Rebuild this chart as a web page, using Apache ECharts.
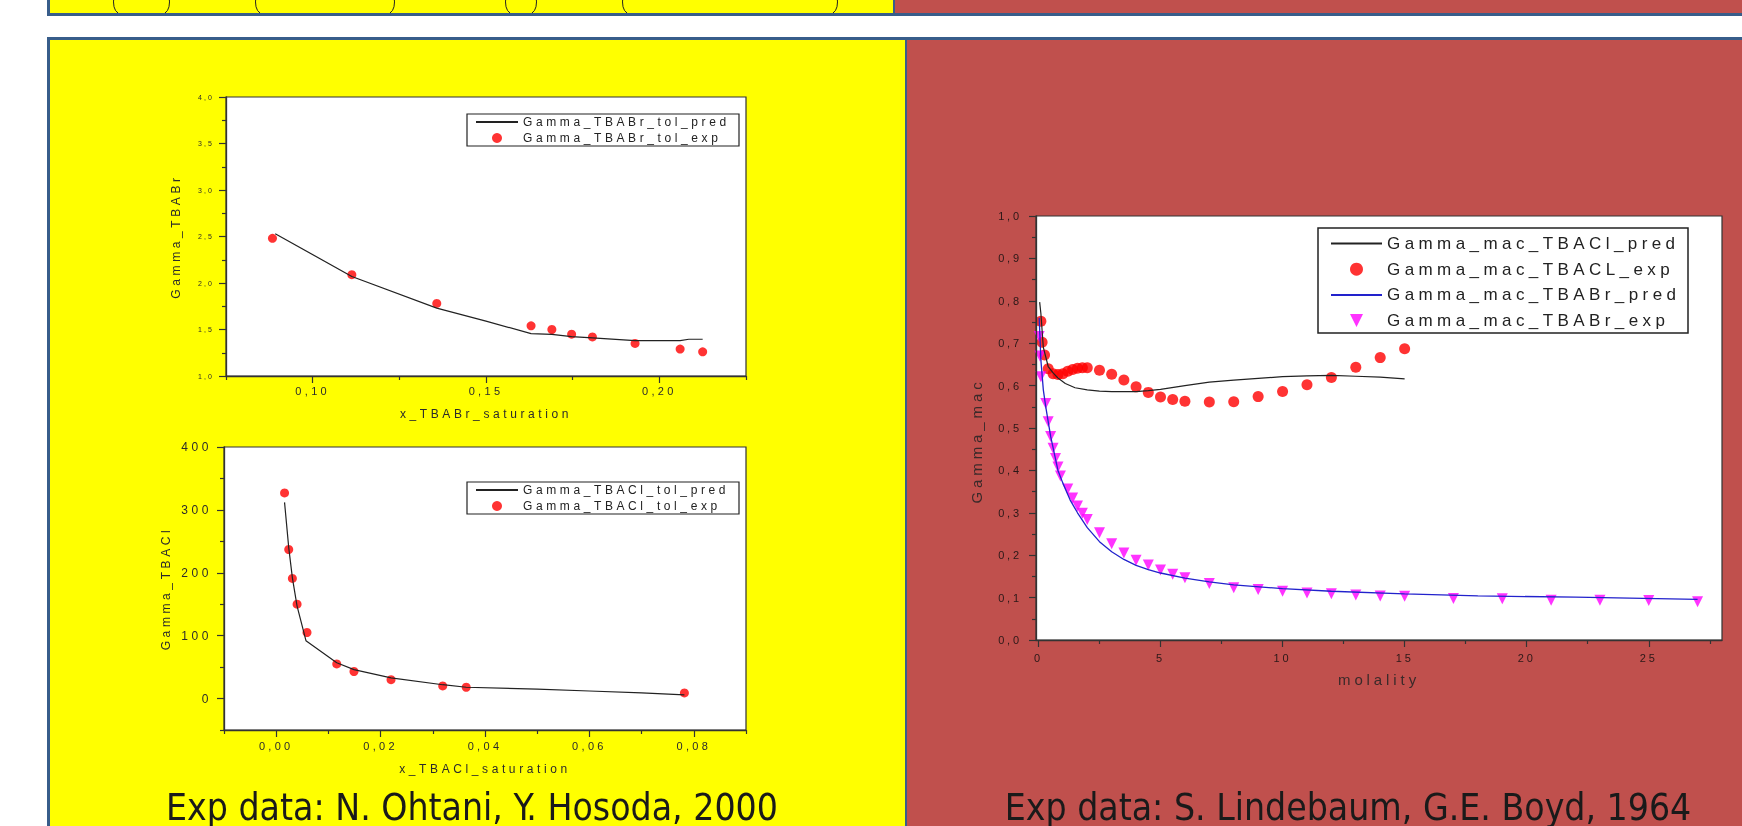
<!DOCTYPE html>
<html><head><meta charset="utf-8">
<script src="https://cdn.jsdelivr.net/npm/echarts@6/dist/echarts.min.js"></script>
<style>
html,body{margin:0;padding:0;background:#fff;}
.layer{position:absolute;left:0;top:0;width:1742px;height:826px;}
#c12 text{letter-spacing:0.3em;}
#c3 text{letter-spacing:0.26em;}
</style></head>
<body>
<div id="bg" class="layer"></div>
<div id="c12" class="layer"></div>
<div id="c3" class="layer"></div>
<script>
// ---------- DATA ----------
// Chart 1 : Gamma_TBABr vs x_TBABr_saturation
const brTolExpX = [0.0884,0.1113,0.1358,0.1630,0.1690,0.1747,0.1807,0.1930,0.2060,0.2125];
const brTolExpY = [2.48,2.09,1.78,1.54,1.50,1.45,1.42,1.35,1.29,1.26];
const brTolPredX = [0.0892,0.1113,0.1358,0.1500,0.1630,0.1690,0.1747,0.1807,0.1930,0.2060,0.2085,0.2125];
const brTolPredY = [2.53,2.07,1.73,1.59,1.456,1.448,1.424,1.41,1.38,1.38,1.395,1.395];
// Chart 2 : Gamma_TBACl vs x_TBACl_saturation
const clTolExpX = [0.0016,0.0024,0.0031,0.0040,0.0059,0.0116,0.0149,0.0220,0.0319,0.0364,0.0782];
const clTolExpY = [327,237,191,150,105,55,43,30,20,18,9];
const clTolPredX = [0.0016,0.0024,0.0031,0.0040,0.0057,0.0116,0.0149,0.0220,0.0319,0.0364,0.0500,0.0600,0.0700,0.0782];
const clTolPredY = [312,240,192,147,92,57,46,33,22,18,15,12,9,6];
// Chart 3 : Gamma_mac vs molality
const clMacExpX = [0.1,0.15,0.25,0.4,0.6,0.8,1.0,1.2,1.4,1.6,1.8,2.0,2.5,3.0,3.5,4.0,4.5,5.0,5.5,6.0,7,8,9,10,11,12,13,14,15];
const clMacExpY = [0.752,0.702,0.672,0.640,0.628,0.626,0.628,0.634,0.638,0.641,0.642,0.642,0.636,0.627,0.613,0.597,0.584,0.573,0.567,0.563,0.5615,0.562,0.574,0.586,0.602,0.619,0.6435,0.666,0.687];
const clMacPredX = [0.05,0.1,0.2,0.4,0.6,0.8,1.1,1.5,2.0,2.5,3.0,4.0,4.5,5.0,6.0,7.0,8.0,9.0,10,11,12,13,14,15];
const clMacPredY = [0.797,0.77,0.69,0.645,0.630,0.618,0.605,0.595,0.590,0.587,0.586,0.586,0.588,0.591,0.600,0.608,0.613,0.617,0.621,0.623,0.624,0.622,0.620,0.616];
const brMacExpX = [0.03,0.06,0.1,0.3,0.4,0.5,0.6,0.7,0.8,0.9,1.2,1.4,1.6,1.8,2.0,2.5,3.0,3.5,4.0,4.5,5.0,5.5,6.0,7,8,9,10,11,12,13,14,15,17,19,21,23,25,27];
const brMacExpY = [0.716,0.67,0.621,0.558,0.515,0.48,0.452,0.428,0.408,0.387,0.356,0.335,0.316,0.299,0.284,0.253,0.227,0.205,0.188,0.177,0.165,0.155,0.147,0.133,0.123,0.119,0.115,0.111,0.109,0.106,0.104,0.103,0.098,0.097,0.094,0.094,0.093,0.090];
const brMacPredX = [0.03,0.1,0.2,0.3,0.5,0.8,1.0,1.3,1.6,2.0,2.5,3.0,3.5,4.0,4.5,5.0,6,7,8,10,12,15,18,22,27];
const brMacPredY = [0.76,0.66,0.59,0.55,0.48,0.40,0.37,0.33,0.30,0.265,0.232,0.208,0.19,0.176,0.166,0.158,0.146,0.137,0.13,0.121,0.115,0.109,0.104,0.101,0.096];
// Ticks
const c1XMajor = [0.10,0.15,0.20], c1XMinor = [0.075,0.125,0.175,0.225];
const c1YMajor = [1.0,1.5,2.0,2.5,3.0,3.5,4.0], c1YMinor = [1.25,1.75,2.25,2.75,3.25,3.75];
const c2XMajor = [0,0.02,0.04,0.06,0.08], c2XMinor = [-0.01,0.01,0.03,0.05,0.07,0.09];
const c2YMajor = [0,100,200,300,400], c2YMinor = [-50,50,150,250,350];
const c3XMajor = [0,5,10,15,20,25], c3XMinor = [2.5,7.5,12.5,17.5,22.5,27.5];
const c3YMajor = [0,0.1,0.2,0.3,0.4,0.5,0.6,0.7,0.8,0.9,1.0];
const c3YMinor = [0.05,0.15,0.25,0.35,0.45,0.55,0.65,0.75,0.85,0.95];
// Texts
const captionLeft = 'Exp data: N. Ohtani, Y. Hosoda, 2000';
const captionRight = 'Exp data: S. Lindebaum, G.E. Boyd, 1964';

// ---------- helpers ----------
const FONT = "'Liberation Sans', Arial, sans-serif";
const zip = (xs, ys) => xs.map((x, i) => [x, ys[i]]);
const comma = d => v => v.toFixed(d).replace('.', ',');
function axisPair(dim, grid, min, max, majors, minors, fmt, lab, extra) {
  const common = {type:'value', gridIndex:grid, min:min, max:max,
    position: dim === 'x' ? 'bottom' : 'left', splitLine:{show:false}, z:5};
  const major = Object.assign({}, common, {
    axisLine:{show:true, onZero:false, lineStyle:{color:'#333', width:1.3}},
    axisTick:{show:true, customValues:majors, length:7, lineStyle:{color:'#333', width:1.2}},
    axisLabel:Object.assign({customValues:majors, formatter:fmt, fontFamily:FONT}, lab)
  }, extra || {});
  const minor = Object.assign({}, common, {
    axisLine:{show:false, onZero:false},
    axisTick:{show:true, customValues:minors, length:4, lineStyle:{color:'#333', width:1.2}},
    axisLabel:{show:false}
  });
  return [major, minor];
}
const lineLegend = name => ({name:name, itemStyle:{opacity:0}});

// ---------- background (slide panels) ----------
const bg = echarts.init(document.getElementById('bg'), null, {renderer:'canvas'});
const blue = '#385d8a', yellow = '#ffff00', red = '#c0504d';
const parenOpen = [113, 255, 505, 622], parenClose = [170, 395, 537, 838];
const parens = [];
parenOpen.forEach(x => parens.push({type:'bezierCurve', shape:{x1:x+1, y1:-4, x2:x+5, y2:13, cpx1:x-1, cpy1:9}, style:{stroke:'#222', lineWidth:1, fill:null}}));
parenClose.forEach(x => parens.push({type:'bezierCurve', shape:{x1:x-1, y1:-4, x2:x-5, y2:13, cpx1:x+1, cpy1:9}, style:{stroke:'#222', lineWidth:1, fill:null}}));
bg.setOption({
  animation:false,
  graphic:[
    {type:'rect', shape:{x:50, y:-10, width:844, height:24}, style:{fill:yellow}},
    {type:'rect', shape:{x:894, y:-10, width:900, height:24}, style:{fill:red}},
    {type:'line', shape:{x1:894, y1:-10, x2:894, y2:14}, style:{stroke:blue, lineWidth:2}},
    {type:'rect', shape:{x:48.5, y:-10, width:1720, height:24.5}, style:{fill:null, stroke:blue, lineWidth:3}},
    ...parens,
    {type:'rect', shape:{x:50, y:40, width:856, height:800}, style:{fill:yellow}},
    {type:'rect', shape:{x:906, y:40, width:900, height:800}, style:{fill:red}},
    {type:'line', shape:{x1:906, y1:40, x2:906, y2:840}, style:{stroke:blue, lineWidth:2}},
    {type:'rect', shape:{x:48.5, y:38.5, width:1720, height:820}, style:{fill:null, stroke:blue, lineWidth:3}},
    {type:'text', x:472, y:829, style:{text:captionLeft, fill:'#1a1a1a', font:"37px 'Liberation Sans Narrow', 'DejaVu Sans Condensed', sans-serif", textAlign:'center', textVerticalAlign:'bottom'}},
    {type:'text', x:1348, y:829, style:{text:captionRight, fill:'#1a1a1a', font:"37px 'Liberation Sans Narrow', 'DejaVu Sans Condensed', sans-serif", textAlign:'center', textVerticalAlign:'bottom'}}
  ]
});

// ---------- charts 1 & 2 ----------
const c12 = echarts.init(document.getElementById('c12'), null, {renderer:'svg'});
const txt = '#2b2b2b';
const x1 = axisPair('x', 0, 0.075, 0.225, c1XMajor, c1XMinor, comma(2), {fontSize:11, color:txt, margin:9},
  {name:'x_TBABr_saturation', nameLocation:'middle', nameGap:32, nameTextStyle:{fontSize:12, color:txt, fontFamily:FONT}});
const y1 = axisPair('y', 0, 1, 4, c1YMajor, c1YMinor, comma(1), {fontSize:7, color:txt, margin:12},
  {name:'Gamma_TBABr', nameLocation:'middle', nameGap:44, nameTextStyle:{fontSize:12, color:txt, fontFamily:FONT}});
const x2 = axisPair('x', 1, -0.01, 0.09, c2XMajor, c2XMinor, comma(2), {fontSize:11, color:txt, margin:10},
  {name:'x_TBACl_saturation', nameLocation:'middle', nameGap:33, nameTextStyle:{fontSize:12, color:txt, fontFamily:FONT}});
const y2 = axisPair('y', 1, -50, 400, c2YMajor, c2YMinor, v => String(v), {fontSize:12, color:txt, margin:12},
  {name:'Gamma_TBACl', nameLocation:'middle', nameGap:52, nameTextStyle:{fontSize:12, color:txt, fontFamily:FONT}});
const legendBase = {orient:'vertical', left:467, padding:[2,6,2,8], itemWidth:42, itemHeight:10, itemGap:4,
  borderColor:'#222', borderWidth:1.2, backgroundColor:'#fff', borderRadius:0,
  textStyle:{fontSize:12, color:'#222', fontFamily:FONT, width:210, lineHeight:12}};
c12.setOption({
  animation:false,
  grid:[
    {left:226, top:97, width:520, height:279, show:true, backgroundColor:'#fff', borderColor:'#333', borderWidth:1.2},
    {left:224, top:447, width:522, height:283, show:true, backgroundColor:'#fff', borderColor:'#333', borderWidth:1.2}
  ],
  xAxis:[x1[0], x1[1], x2[0], x2[1]],
  yAxis:[y1[0], y1[1], y2[0], y2[1]],
  legend:[
    Object.assign({}, legendBase, {top:114, data:[lineLegend('Gamma_TBABr_tol_pred'),'Gamma_TBABr_tol_exp']}),
    Object.assign({}, legendBase, {top:482, data:[lineLegend('Gamma_TBACl_tol_pred'),'Gamma_TBACl_tol_exp']})
  ],
  series:[
    {name:'Gamma_TBABr_tol_exp', type:'scatter', xAxisIndex:0, yAxisIndex:0, data:zip(brTolExpX, brTolExpY),
      symbol:'circle', symbolSize:9, itemStyle:{color:'#ff0000'}},
    {name:'Gamma_TBABr_tol_pred', type:'line', xAxisIndex:0, yAxisIndex:0, data:zip(brTolPredX, brTolPredY),
      symbol:'none', lineStyle:{color:'#222', width:1.2}, itemStyle:{color:'#222'}, z:3},
    {name:'Gamma_TBACl_tol_exp', type:'scatter', xAxisIndex:2, yAxisIndex:2, data:zip(clTolExpX, clTolExpY),
      symbol:'circle', symbolSize:9, itemStyle:{color:'#ff0000'}},
    {name:'Gamma_TBACl_tol_pred', type:'line', xAxisIndex:2, yAxisIndex:2, data:zip(clTolPredX, clTolPredY),
      symbol:'none', lineStyle:{color:'#222', width:1.2}, itemStyle:{color:'#222'}, z:3}
  ]
});

// ---------- chart 3 ----------
const c3 = echarts.init(document.getElementById('c3'), null, {renderer:'svg'});
const txt3 = '#2a1818';
const x3 = axisPair('x', 0, -0.1, 28, c3XMajor, c3XMinor, v => String(v), {fontSize:11, color:txt3, margin:12},
  {name:'molality', nameLocation:'middle', nameGap:32, nameTextStyle:{fontSize:15, color:'#3a2a2a', fontFamily:FONT}});
const y3 = axisPair('y', 0, 0, 1, c3YMajor, c3YMinor, comma(1), {fontSize:11, color:txt3, margin:14},
  {name:'Gamma_mac', nameLocation:'middle', nameGap:52, nameTextStyle:{fontSize:15, color:'#3a2a2a', fontFamily:FONT, padding:[0,26,0,0]}});
const triIcon = 'path://M0,6.5L0.1,6.5M19,0L32,0L25.5,13ZM51,6.5L50.9,6.5';
c3.setOption({
  animation:false,
  grid:{left:1036, top:216, width:686, height:424, show:true, backgroundColor:'#fff', borderColor:'#333', borderWidth:1.2},
  xAxis:x3, yAxis:y3,
  legend:{orient:'vertical', left:1318, top:228, padding:[7,8,4,12], itemWidth:51, itemHeight:13, itemGap:8.7,
    borderColor:'#222', borderWidth:1.5, backgroundColor:'#fff', borderRadius:0,
    textStyle:{fontSize:17, color:'#222', fontFamily:FONT, width:293, lineHeight:16},
    data:[lineLegend('Gamma_mac_TBACl_pred'),'Gamma_mac_TBACL_exp',lineLegend('Gamma_mac_TBABr_pred'),
      {name:'Gamma_mac_TBABr_exp', icon:triIcon, symbolRotate:0, itemStyle:{color:'#ff00ff'}}]},
  series:[
    {name:'Gamma_mac_TBACL_exp', type:'scatter', data:zip(clMacExpX, clMacExpY),
      symbol:'circle', symbolSize:11, itemStyle:{color:'#ff0000'}},
    {name:'Gamma_mac_TBABr_exp', type:'scatter', data:zip(brMacExpX, brMacExpY),
      symbol:'triangle', symbolRotate:180, symbolSize:11, itemStyle:{color:'#ff00ff'}},
    {name:'Gamma_mac_TBACl_pred', type:'line', data:zip(clMacPredX, clMacPredY),
      symbol:'none', lineStyle:{color:'#222', width:1.2}, itemStyle:{color:'#222'}, z:3},
    {name:'Gamma_mac_TBABr_pred', type:'line', data:zip(brMacPredX, brMacPredY),
      symbol:'none', lineStyle:{color:'#2222cc', width:1.3}, itemStyle:{color:'#2222cc'}, z:3}
  ]
});
</script>
</body></html>
